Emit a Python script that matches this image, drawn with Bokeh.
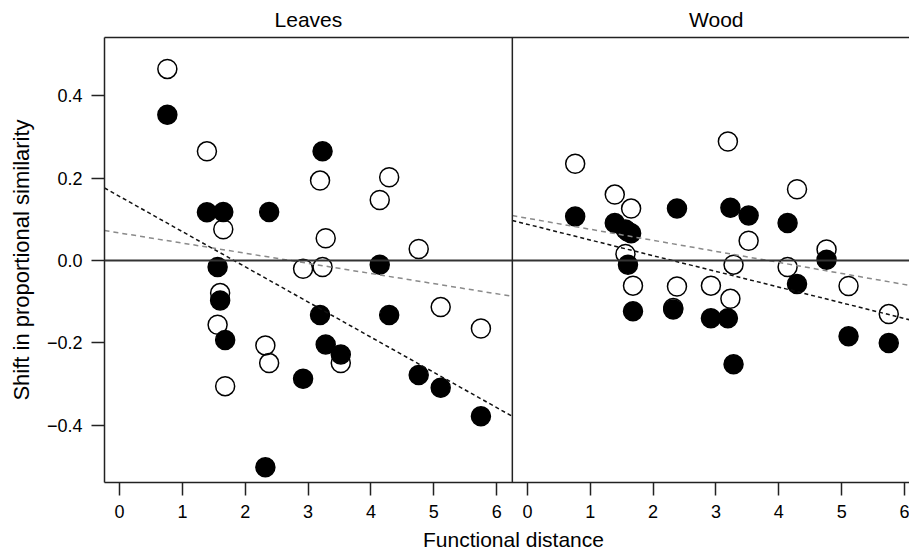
from bokeh.plotting import figure
from bokeh.models import Range1d, FixedTicker, Span, LinearAxis, CustomJSTickFormatter
from bokeh.embed import file_html
from bokeh.resources import INLINE

# ---------------- data ----------------
panels = ["Leaves", "Wood"]
x_title = "Functional distance"
y_title = "Shift in proportional similarity"
distance = [0.76, 1.39, 1.56, 1.60, 1.65, 1.68, 2.32, 2.38, 2.92,
            3.19, 3.23, 3.28, 3.52, 4.14, 4.29, 4.76, 5.11, 5.75]
leaves_open = [0.465, 0.265, -0.156, -0.079, 0.076, -0.305, -0.206, -0.249, -0.020,
               0.194, -0.016, 0.054, -0.249, 0.147, 0.202, 0.028, -0.113, -0.165]
leaves_filled = [0.354, 0.117, -0.016, -0.097, 0.118, -0.193, -0.502, 0.118, -0.287,
                 -0.132, 0.265, -0.204, -0.228, -0.010, -0.132, -0.278, -0.309, -0.378]
wood_open = [0.235, 0.160, 0.016, 0.070, 0.126, -0.061, -0.115, -0.063, -0.061,
             0.289, -0.093, -0.010, 0.048, -0.016, 0.173, 0.027, -0.062, -0.130]
wood_filled = [0.107, 0.091, 0.075, -0.010, 0.066, -0.123, -0.119, 0.126, -0.140,
               -0.140, 0.128, -0.252, 0.109, 0.091, -0.057, 0.002, -0.184, -0.200]

# fitted lines (intercept, slope)
leaves_fit_filled = (0.1555, -0.0854)
leaves_fit_open = (0.0669, -0.0246)
wood_fit_filled = (0.0879, -0.0381)
wood_fit_open = (0.1026, -0.0268)

x_ticks = [0, 1, 2, 3, 4, 5, 6]
y_ticks = [-0.4, -0.2, 0.0, 0.2, 0.4]

# ---------------- layout ----------------
X_MIN, X_MAX_LEFT, X_MAX_RIGHT = -0.24, 6.25, 6.08
SHIFT = X_MAX_LEFT - X_MIN          # offset of the second panel
Y_MIN, Y_MAX = -0.5388, 0.5413
X_TITLE_POS = 6.268                 # centre of the x-axis title (data units)
FONT = "Liberation Sans"
FRAME_COLOR = "#222222"

p = figure(frame_width=805, frame_height=445,
           min_border_left=104, min_border_right=0, min_border_top=37, min_border_bottom=70,
           x_range=Range1d(X_MIN, SHIFT + X_MAX_RIGHT), y_range=Range1d(Y_MIN, Y_MAX),
           output_backend="svg", toolbar_location=None)
p.xgrid.visible = False
p.ygrid.visible = False
p.outline_line_color = None
p.background_fill_color = "white"
p.border_fill_color = "white"

# axes
p.xaxis.ticker = FixedTicker(ticks=x_ticks + [t + SHIFT for t in x_ticks])
p.xaxis.formatter = CustomJSTickFormatter(args=dict(shift=SHIFT), code="""
    const v = tick > shift - 0.3 ? tick - shift : tick;
    return Math.round(v).toString();
""")
p.yaxis.ticker = FixedTicker(ticks=y_ticks)
p.yaxis.formatter = CustomJSTickFormatter(code="""
    return tick.toFixed(1).replace('-', '\u2212');
""")
for ax in (p.xaxis[0], p.yaxis[0]):
    ax.axis_line_color = FRAME_COLOR
    ax.axis_line_width = 1.5
    ax.major_tick_line_color = FRAME_COLOR
    ax.major_tick_line_width = 1.5
    ax.major_tick_out = 13
    ax.major_tick_in = 0
    ax.minor_tick_line_color = None
    ax.major_label_text_font = FONT
    ax.major_label_text_font_size = "18px"
    ax.major_label_text_color = "black"
    ax.major_label_standoff = 9
p.yaxis.axis_label = y_title
p.yaxis.axis_label_text_font = FONT
p.yaxis.axis_label_text_font_size = "22px"
p.yaxis.axis_label_text_font_style = "normal"
p.yaxis.axis_label_text_color = "black"
p.yaxis.axis_label_standoff = 10


def label_axis(ticks, code, args, standoff, line_color=None):
    ax = LinearAxis(ticker=FixedTicker(ticks=ticks),
                    formatter=CustomJSTickFormatter(args=args, code=code))
    ax.axis_line_color = line_color
    ax.axis_line_width = 1.5
    ax.major_tick_line_color = None
    ax.minor_tick_line_color = None
    ax.major_tick_out = 0
    ax.major_tick_in = 0
    ax.major_label_standoff = standoff
    ax.major_label_text_font = FONT
    ax.major_label_text_font_size = "21px"
    ax.major_label_text_color = "black"
    return ax


# panel titles (above, its line is the top of the box) and x-axis title (below)
centre = (X_MIN + X_MAX_LEFT) / 2
p.add_layout(label_axis([centre, centre + SHIFT],
                        "return tick > shift ? names[1] : names[0];",
                        dict(names=panels, shift=SHIFT), 7, FRAME_COLOR), "above")
p.add_layout(label_axis([X_TITLE_POS], "return title;", dict(title=x_title), 7), "below")

# reference lines
p.add_layout(Span(location=0, dimension="width", line_color="#333333", line_width=1.8))
p.add_layout(Span(location=X_MAX_LEFT, dimension="height", line_color=FRAME_COLOR, line_width=1.5))

# points: open first, filled on top
for shift, y_open, y_filled in ((0.0, leaves_open, leaves_filled),
                                (SHIFT, wood_open, wood_filled)):
    xs = [d + shift for d in distance]
    p.scatter(xs, y_open, size=19, marker="circle", fill_color=None,
              line_color="black", line_width=1.5)
    p.scatter(xs, y_filled, size=19, marker="circle", fill_color="black",
              line_color="black", line_width=1.5)

# fitted dashed lines
for shift, x_end, fit_f, fit_o in ((0.0, X_MAX_LEFT, leaves_fit_filled, leaves_fit_open),
                                   (SHIFT, X_MAX_RIGHT, wood_fit_filled, wood_fit_open)):
    xs = [X_MIN, x_end]
    p.line([x + shift for x in xs], [fit_o[0] + fit_o[1] * x for x in xs],
           line_color="#8a8a8a", line_width=1.5, line_dash="5 4")
    p.line([x + shift for x in xs], [fit_f[0] + fit_f[1] * x for x in xs],
           line_color="#111111", line_width=1.5, line_dash="4 3")

open("out.html", "w").write(file_html(p, INLINE))
